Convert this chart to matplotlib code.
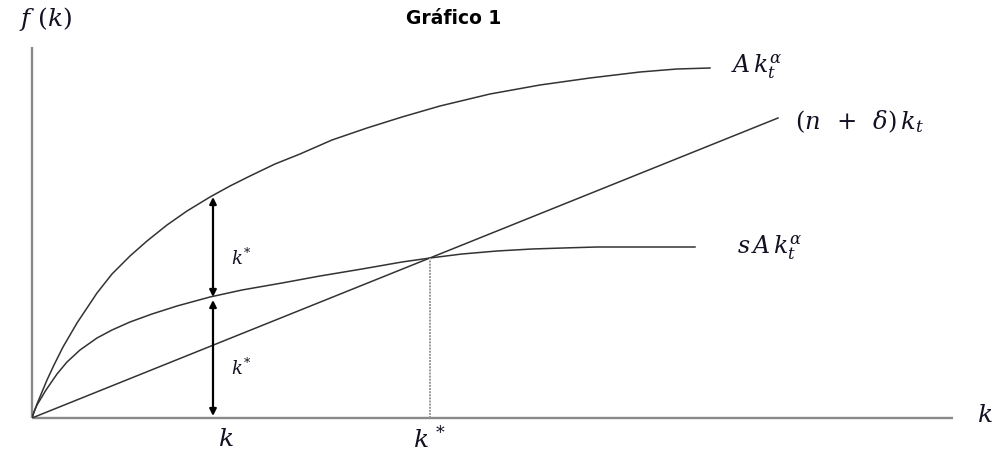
import matplotlib
matplotlib.use("Agg")
import matplotlib.pyplot as plt

plt.rcParams["mathtext.fontset"] = "dejavuserif"

# ── Data (k along x, f(k) up y) ───────────────────────────────────────
top_k = [0, 2, 5, 10, 15, 22, 31, 45, 65, 80, 98, 115, 135, 155, 178, 198,
         218, 243, 268, 300, 335, 370, 408, 458, 508, 558, 608, 645, 678]
top_y = [0, 6, 14, 26, 38, 53, 71, 95, 125, 144, 162, 177, 193, 207, 221, 232,
         242, 254, 264, 278, 290, 301, 312, 324, 333, 340, 346, 349, 350]

sav_k = [0, 2, 5, 8, 14, 25, 35, 48, 65, 80, 98, 120, 145, 178, 210, 250,
         288, 330, 370, 398, 430, 465, 500, 531, 565, 598, 663]
sav_y = [0, 6, 13, 18, 28, 44, 56, 68, 80, 88, 96, 104, 112, 121, 128, 135,
         142, 149, 156, 160, 164, 167, 169, 170, 171, 171, 171]

dep_k = [0, 746]
dep_y = [0, 300]

k_low = 181          # the "k" marked on the axis
k_star = 398         # steady state
y_star = 160
arrow_upper = [221, 121]
arrow_lower = [118, 2]

# ── Figure ────────────────────────────────────────────────────────────
W, H = 993, 451
fig = plt.figure(figsize=(W / 100, H / 100), dpi=100)
x0, y0 = 32, 418
xmax, ymax = 921, 371
ax = fig.add_axes([x0 / W, (H - y0) / H, xmax / W, ymax / H])
ax.set_xlim(0, xmax)
ax.set_ylim(0, ymax)
ax.axis("off")

axis_col = "#8a8a8a"
ax.plot([0, xmax], [0, 0], color=axis_col, lw=1.7, solid_capstyle="butt", clip_on=False)
ax.plot([0, 0], [0, ymax], color=axis_col, lw=1.7, solid_capstyle="butt", clip_on=False)

curve_col = "#333333"
for xs, ys in ((top_k, top_y), (sav_k, sav_y), (dep_k, dep_y)):
    ax.plot(xs, ys, color=curve_col, lw=1.1, solid_joinstyle="round")

# dotted drop line at k*
ax.plot([k_star, k_star], [0, y_star], color="#999999", lw=1.4, linestyle=(0, (1, 0.6)))

# double arrows at k
for a, b in (arrow_upper, arrow_lower):
    ax.annotate("", xy=(k_low, a), xytext=(k_low, b),
                arrowprops=dict(arrowstyle="<|-|>", color="black", lw=1.6,
                                mutation_scale=10, shrinkA=0, shrinkB=0))

txt = "#111122"
ax.text(199, 160, r"$k^{*}$", fontsize=13, color=txt, va="center", ha="left")
ax.text(199, 50, r"$k^{*}$", fontsize=13, color=txt, va="center", ha="left")

ax.text(194, -21, r"$k$", fontsize=18, color=txt, ha="center", va="center", clip_on=False)
ax.text(398, -21, r"$k^{\,*}$", fontsize=18, color=txt, ha="center", va="center", clip_on=False)
ax.text(953, 3, r"$k$", fontsize=18, color=txt, ha="center", va="center", clip_on=False)
ax.text(14, 399, r"$f\ (k)$", fontsize=18, color=txt, ha="center", va="center", clip_on=False)

ax.text(699, 351, r"$A\,k_t^{\alpha}$", fontsize=17, color=txt, ha="left", va="center")
ax.text(763, 296, r"$(n\ \,+\ \,\delta)\,k_t$", fontsize=17.5, color=txt, ha="left", va="center")
ax.text(705, 170, r"$s\,A\,k_t^{\alpha}$", fontsize=17, color=txt, ha="left", va="center")

fig.text(454 / W, 1 - 18 / H, "Gráfico 1", fontsize=13.5, fontweight="bold",
         family="DejaVu Sans", ha="center", va="center", color="black")

fig.savefig("out.png", dpi=100)
